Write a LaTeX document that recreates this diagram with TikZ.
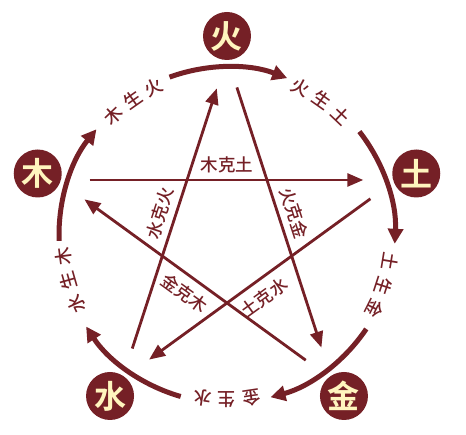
\documentclass[tikz,border=0pt]{standalone}
\usepackage{fontspec}
\newfontfamily\cjk{Noto Sans CJK SC}[UprightFont={* Medium},BoldFont={* Bold}]
\usetikzlibrary{arrows.meta}
\definecolor{maroon}{RGB}{117,32,38}
\definecolor{cream}{RGB}{255,245,190}

\begin{document}
\begin{tikzpicture}[element/.style={circle,fill=maroon,text=cream,minimum size=48pt,inner sep=0pt,
                      font=\cjk\bfseries\fontsize{32}{32}\selectfont},
                    sheng/.style={draw=maroon,line width=5pt,-{Triangle[length=15pt,width=15pt]}},
                    ke/.style={color=maroon,line width=2.8pt,-{Triangle[length=16pt,width=13pt]},
                      shorten <=32pt,shorten >=33pt},
                    kelabel/.style={font=\cjk\fontsize{17.5}{17.5}\selectfont,text=maroon,sloped,midway,inner sep=6pt},
                    shenglabel/.style={font=\cjk\fontsize{18}{18}\selectfont,text=maroon,inner sep=0pt}]
                \useasboundingbox (-227pt,-200pt) rectangle (239pt,235pt);
                % the five elements
                \node[element] (huo)  at (90:199pt)   {火};
                \node[element] (tu)   at (18:199pt)   {土};
                \node[element] (jin)  at (-54:199pt)  {金};
                \node[element] (shui) at (-126:199pt) {水};
                \node[element] (mu)   at (162:199pt)  {木};
                % corners of the star
                \foreach \a [count=\i from 0] in {90,18,-54,-126,162}
                  \coordinate (p_\i) at (\a:178pt);
                \path[ke]
                (p_4) edge node[kelabel,above] {木克土} (p_1)
                (p_1) edge node[kelabel,below,inner sep=8pt,pos=0.52] {土克水} (p_3)
                (p_3) edge node[kelabel,above] {水克火} (p_0)
                (p_0) edge node[kelabel,above] {火克金} (p_2)
                (p_2) edge node[kelabel,below,inner sep=7.5pt] {金克木} (p_4);
                % outer ring
                \foreach \a in {182,110,38,-34,-106}
                  \draw[sheng] (\a:168pt) arc[start angle=\a,end angle=\a-41,radius=168pt];
                \foreach \a/\x/\y/\z in {125/木/生/火,55/火/生/土,-18/土/生/金,-90/金/生/水,-164/水/生/木}
                  \foreach \c [count=\j] in {\x,\y,\z} {
                    \pgfmathsetmacro\b{\a+8.6*(2-\j)}
                    \node[shenglabel,rotate=\b-90] at (\b:165pt) {\c};
                  }
            \end{tikzpicture}
\end{document}
